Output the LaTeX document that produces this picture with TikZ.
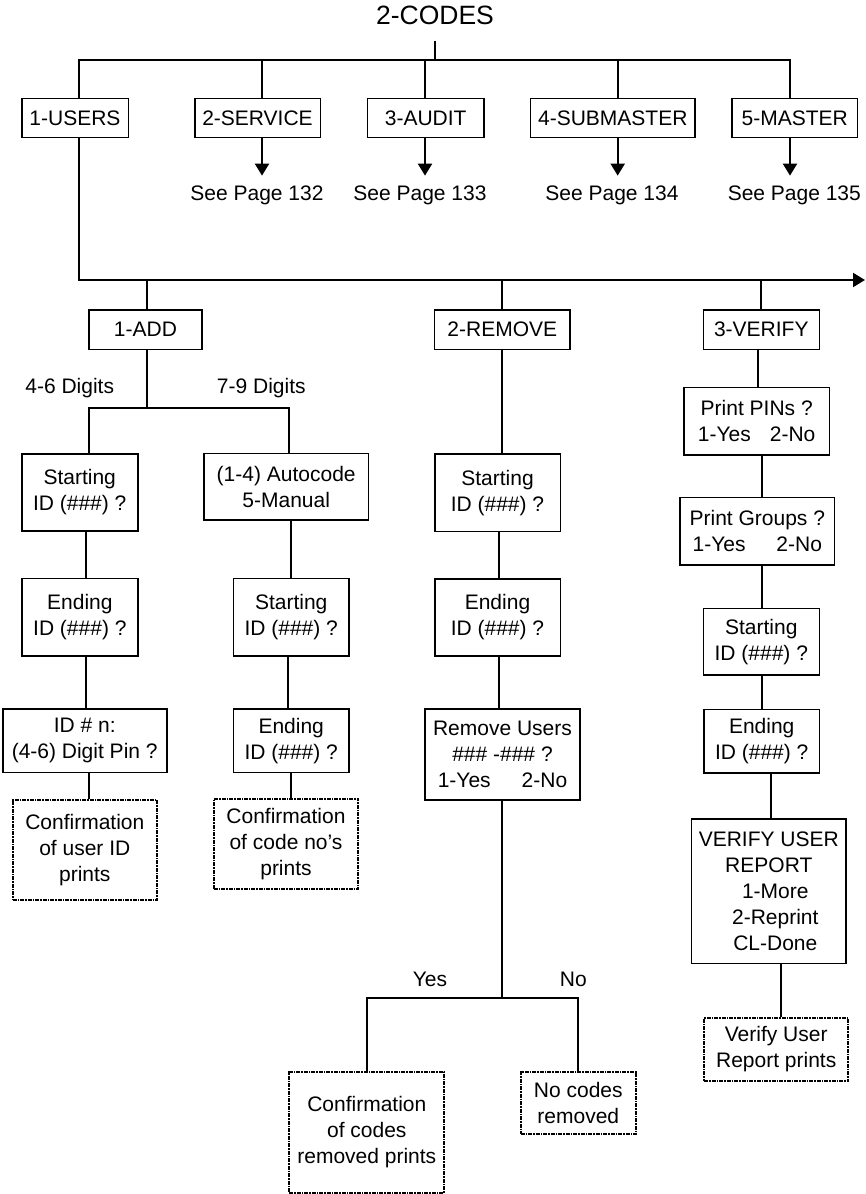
\documentclass[tikz,border=0pt]{standalone}
\usepackage{fontspec}
\setmainfont{Liberation Sans}
\usetikzlibrary{arrows.meta}
\begin{document}
\begin{tikzpicture}[x=1pt,y=-1pt,
  txt/.style={font=\fontsize{21}{26}\selectfont, inner sep=0pt},
  box/.style={draw, line width=1.6pt, align=center, inner sep=0pt,
    font=\fontsize{21}{26}\selectfont},
  printbox/.style={box, line width=1.8pt,
    dash pattern=on 4pt off 1pt on 1.5pt off 1pt},
  sz/.style 2 args={minimum width=#1pt, minimum height=#2pt},
  wire/.style={line width=2.1pt},
  arrow/.style={wire, -{Triangle[length=12pt,width=14pt]}}]
\useasboundingbox (0,0) rectangle (866,1194);

% ---- top level menu ----
\node[anchor=base, inner sep=0pt, font=\fontsize{26.5}{30}\selectfont] (title) at (435,24) {2-CODES};

\node[box, sz={106.6}{39}] (users)     at (75,117.8)    {1-USERS};
\node[box, sz={125.6}{39}] (service)   at (257.5,117.8) {2-SERVICE};
\node[box, sz={116.7}{39}] (audit)     at (425.7,117.8) {3-AUDIT};
\node[box, sz={164.3}{39}] (submaster) at (612.8,117.8) {4-SUBMASTER};
\node[box, sz={125.7}{39}] (master)    at (794.8,117.8) {5-MASTER};

\node[txt, anchor=base] (see2) at (257,200.5)   {See Page 132};
\node[txt, anchor=base] (see3) at (420,200.5)   {See Page 133};
\node[txt, anchor=base] (see4) at (612,200.5)   {See Page 134};
\node[txt, anchor=base] (see5) at (794.3,200.5) {See Page 135};

\coordinate (tb)  at (435,60);
\coordinate (jsv) at (262,60);
\coordinate (jau) at (425,60);
\coordinate (jsm) at (617.7,60);
\coordinate (jms) at (790,60);

\draw[wire] ([yshift=-17pt]title.south) -- (tb);
\draw[wire] ([xshift=4pt]users.north) |- (jms) -- ([xshift=-4.8pt]master.north);
\draw[wire] (jsv) -- ([xshift=4.5pt]service.north);
\draw[wire] (jau) -- ([xshift=-0.7pt]audit.north);
\draw[wire] (jsm) -- ([xshift=4.9pt]submaster.north);

\draw[arrow] ([xshift=4.5pt]service.south)   -- ([xshift=5pt,yshift=10pt]see2.north);
\draw[arrow] ([xshift=-0.7pt]audit.south)    -- ([xshift=5pt,yshift=10pt]see3.north);
\draw[arrow] ([xshift=4.9pt]submaster.south) -- ([xshift=5.7pt,yshift=10pt]see4.north);
\draw[arrow] ([xshift=-4.8pt]master.south)   -- ([xshift=-4.3pt,yshift=10pt]see5.north);

% ---- users sub-menu ----
\coordinate (busend) at (865,280);
\coordinate (jadd) at (146.7,280);
\coordinate (jrem) at (502.3,280);
\coordinate (jver) at (761.3,280);

\node[box, sz={113}{39.3}]   (add)    at (145.5,329.7) {1-ADD};
\node[box, sz={135.3}{39.3}] (remove) at (502.3,329.7) {2-REMOVE};
\node[box, sz={116}{39.3}]   (verify) at (761.3,329.7) {3-VERIFY};

\draw[arrow] ([xshift=4pt]users.south) |- (busend);
\draw[wire] (jadd) -- ([xshift=1.2pt]add.north);
\draw[wire] (jrem) -- (remove.north);
\draw[wire] (jver) -- (verify.north);

% ---- add branch ----
\coordinate (jdig) at (146.7,407.7);
\node[txt, anchor=base] (d46) at (69.7,393.5)  {4-6 Digits};
\node[txt, anchor=base] (d79) at (261.3,393.5) {7-9 Digits};

\node[box, sz={116}{77}]      (start1) at (79.7,492.5)  {Starting\\ID (\#\#\#) ?};
\node[box, sz={164.3}{66.7}]  (auto)   at (286.2,486.7) {(1-4) Autocode\\5-Manual};
\node[box, sz={115.7}{77.7}]  (end1)   at (79.85,617.2) {Ending\\ID (\#\#\#) ?};
\node[box, sz={115.7}{77.7}]  (start2) at (291.2,617.2) {Starting\\ID (\#\#\#) ?};
\node[box, sz={164}{63.7}]    (idn)    at (84.7,740.8)  {ID \# n:\\(4-6) Digit Pin ?};
\node[box, sz={115.7}{63.7}]  (end2)   at (291.2,740.8) {Ending\\ID (\#\#\#) ?};
\node[printbox, sz={144.3}{100}] (conf1) at (84.8,850)  {Confirmation\\of user ID\\prints};
\node[printbox, sz={144.6}{90.3}] (conf2) at (286,844.2) {Confirmation\\of code no’s\\prints};

\draw[wire] ([xshift=1.2pt]add.south) -- (jdig);
\draw[wire] ([xshift=9.3pt]start1.north) |- (jdig) -| ([xshift=3.1pt]auto.north);
\draw[wire] ([xshift=6.6pt]start1.south) -- ([xshift=6.45pt]end1.north);
\draw[wire] ([xshift=4.5pt]auto.south)   -- ([xshift=-0.5pt]start2.north);
\draw[wire] ([xshift=6.45pt]end1.south)  -- ([xshift=1.6pt]idn.north);
\draw[wire] ([xshift=-3.2pt]start2.south) -- ([xshift=-3.2pt]end2.north);
\draw[wire] ([xshift=4.6pt]idn.south)    -- ([xshift=4.5pt]conf1.north);
\draw[wire] ([xshift=-0.2pt]end2.south)  -- ([xshift=5pt]conf2.north);

% ---- remove branch ----
\node[box, sz={125.6}{77.7}] (start3) at (497.5,492.8) {Starting\\ID (\#\#\#) ?};
\node[box, sz={125.6}{77}]   (end3)   at (497.5,617.5) {Ending\\ID (\#\#\#) ?};
\node[box, sz={155}{91}]     (rmv)    at (502.5,754.5)
  {Remove Users\\\#\#\# -\#\#\# ?\\1-Yes\hspace{31pt}2-No};
\node[printbox, sz={155}{121}]   (conf3)   at (366.8,1132.2) {Confirmation\\of codes\\removed prints};
\node[printbox, sz={115.3}{62.6}] (nocodes) at (578.3,1103)  {No codes\\removed};

\coordinate (jyn) at (502.3,998.3);
\node[txt, anchor=base] (yes) at (430,986.5)   {Yes};
\node[txt, anchor=base] (no)  at (573.3,986.5) {No};

\draw[wire] (remove.south) -- ([xshift=4.8pt]start3.north);
\draw[wire] ([xshift=1.2pt]start3.south) -- ([xshift=1.2pt]end3.north);
\draw[wire] ([xshift=1.5pt]end3.south) -- ([xshift=-3.5pt]rmv.north);
\draw[wire] ([xshift=-0.2pt]rmv.south) -- (jyn);
\draw[wire] ([xshift=0.5pt]conf3.north) |- (jyn) -| ([xshift=-0.6pt]nocodes.north);

% ---- verify branch ----
\node[box, sz={145.3}{67.7}] (pins)   at (756.7,421.2) {Print PINs ?\\1-Yes\hspace{19pt}2-No};
\node[box, sz={154.7}{67.7}] (groups) at (757.3,531.2) {Print Groups ?\\1-Yes\hspace{31pt}2-No};
\node[box, sz={116}{66.7}]   (start4) at (761.3,641.7) {Starting\\ID (\#\#\#) ?};
\node[box, sz={115.3}{63.4}] (end4)   at (761.7,741)   {Ending\\ID (\#\#\#) ?};
\node[box, sz={154.3}{144.3}] (vrep)  at (768.8,891.2)
  {VERIFY USER\\REPORT\\\hspace*{13pt}1-More\\\hspace*{13pt}2-Reprint\\\hspace*{13pt}CL-Done};
\node[printbox, sz={144.3}{63}] (vprint) at (776.2,1049.2) {Verify User\\Report prints};

\draw[wire] ([xshift=-3pt]verify.south) -- ([xshift=1.6pt]pins.north);
\draw[wire] ([xshift=5pt]pins.south)    -- ([xshift=4.4pt]groups.north);
\draw[wire] ([xshift=4.4pt]groups.south) -- ([xshift=0.4pt]start4.north);
\draw[wire] ([xshift=0.4pt]start4.south) -- (end4.north);
\draw[wire] ([xshift=9.3pt]end4.south)  -- ([xshift=2.2pt]vrep.north);
\draw[wire] ([xshift=11.9pt]vrep.south) -- ([xshift=4.5pt]vprint.north);
\end{tikzpicture}
\end{document}
